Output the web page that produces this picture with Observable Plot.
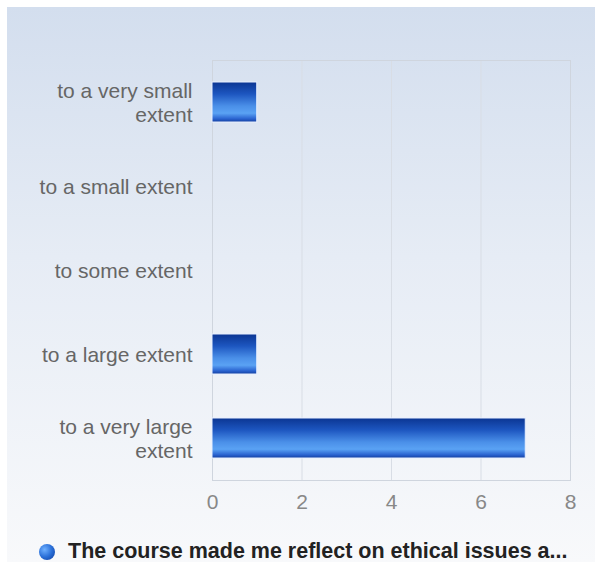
<!DOCTYPE html>
<html>
<head>
<meta charset="utf-8">
<script src="https://cdn.jsdelivr.net/npm/d3@7"></script>
<script src="https://cdn.jsdelivr.net/npm/@observablehq/plot@0.6"></script>
<style>
  html, body { margin: 0; padding: 0; background: #fff; }
  #wrap {
    position: absolute; left: 7px; top: 7px; width: 588px; height: 555px;
    background: linear-gradient(to bottom, #d3deee 0%, #e6ecf5 45%, #f8f9fb 100%);
    font-family: "Liberation Sans", Arial, sans-serif;
  }
  #chart { position: absolute; left: -7px; top: -7px; }
  #legend {
    position: absolute; left: 32px; top: 532px; display: flex; align-items: center;
    font: bold 21.5px "Liberation Sans", Arial, sans-serif; color: #222; white-space: nowrap;
  }
  #legend .dot {
    width: 16px; height: 16px; border-radius: 50%; margin-right: 13px;
    background: radial-gradient(circle at 35% 35%, #6fb0ff 0%, #2a6fd8 50%, #0d3a9a 100%);
  }
</style>
</head>
<body>
<div id="wrap">
  <div id="chart"></div>
  <div id="legend"><span class="dot"></span><span id="legendText"></span></div>
</div>
<script>
const categories = ["to a very small\nextent", "to a small extent", "to some extent", "to a large extent", "to a very large\nextent"];
const values = [1, 0, 0, 1, 7];
const xTicks = [0, 2, 4, 6, 8];
const seriesName = "The course made me reflect on ethical issues a...";

const data = categories.map((c, i) => ({category: c, value: values[i]}));

const chart = Plot.plot({
  width: 595,
  height: 530,
  marginLeft: 212,
  marginRight: 25,
  marginTop: 60,
  marginBottom: 50,
  style: {background: "transparent", fontFamily: "Liberation Sans, Arial, sans-serif", fontSize: "21px"},
  x: {domain: [0, 8], ticks: xTicks, label: null},
  y: {domain: categories, padding: 0.52, paddingOuter: 0.26, label: null},
  marks: [
    Plot.gridX(xTicks.slice(1, -1), {stroke: "#d8dde5", strokeOpacity: 1}),
    Plot.frame({stroke: "#cfd5de"}),
    Plot.barX(data.filter(d => d.value > 0), {x: "value", y: "category", fill: "url(#barGrad)", stroke: "#e8f0ff", strokeWidth: 1}),
    Plot.axisX(xTicks, {tickSize: 0, tickPadding: 14, fill: "#888", fontSize: 21, label: null}),
    Plot.axisY({tickSize: 0, tickPadding: 20, fill: "#666", fontSize: 21, lineHeight: 1.15, label: null})
  ]
});

const svg = d3.select(chart);
const defs = svg.insert("defs", ":first-child");
const g = defs.append("linearGradient").attr("id", "barGrad").attr("x1", 0).attr("y1", 0).attr("x2", 0).attr("y2", 1);
[[0, "#0b3592"], [0.3, "#1d56c0"], [0.6, "#4a8fe8"], [0.78, "#5aa2f4"], [0.92, "#2a63d0"], [1, "#123f9f"]]
  .forEach(([o, c]) => g.append("stop").attr("offset", o).attr("stop-color", c));

document.getElementById("chart").appendChild(chart);
document.getElementById("legendText").textContent = seriesName;
</script>
</body>
</html>
